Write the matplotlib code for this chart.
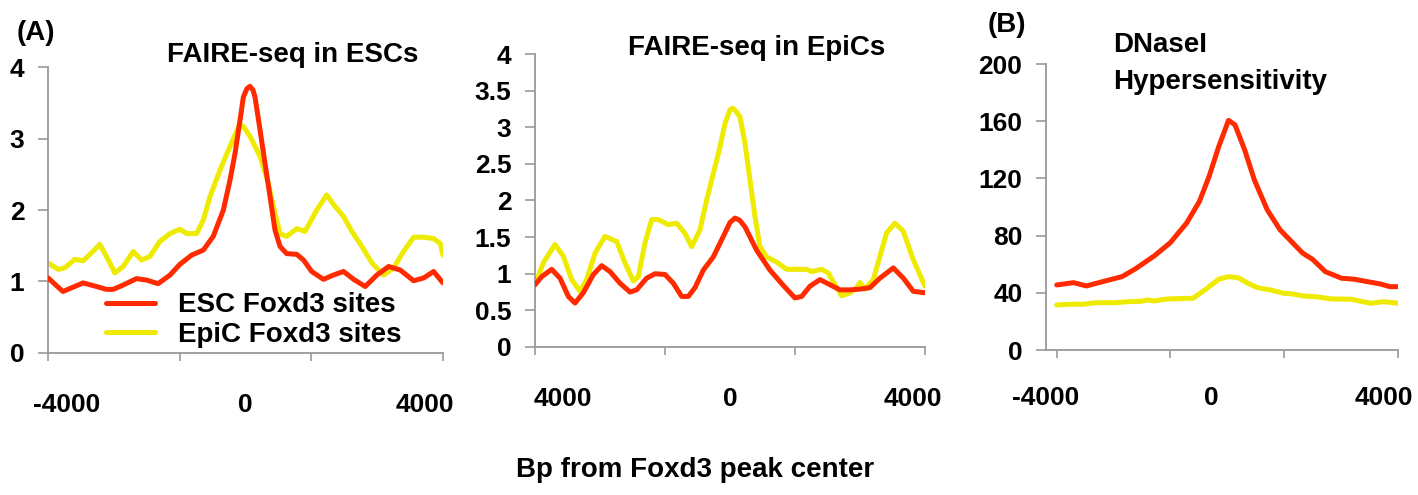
import matplotlib
matplotlib.use("Agg")
import matplotlib.pyplot as plt

plt.rcParams['font.family'] = ['Liberation Sans', 'DejaVu Sans']
plt.rcParams['font.weight'] = 'bold'

RED = "#ff2a00"
YELLOW = "#eeea00"

# FAIRE-seq in ESCs
esc_a_x = [-4000, -3700, -3290, -3020, -2820, -2680, -2480, -2210, -2005, -1770, -1530, -1330, -1090, -855,
           -655, -449, -314, -213, -111, -44, 30, 91, 150, 192, 294, 395, 496, 597, 699, 834, 1037, 1175,
           1340, 1580, 1780, 1985, 2190, 2425, 2660, 2900, 3135, 3405, 3610, 3810, 4000]
esc_a_y = [1.05, 0.86, 0.98, 0.93, 0.89, 0.89, 0.95, 1.04, 1.02, 0.97, 1.09, 1.24, 1.37, 1.44, 1.63, 2.0,
           2.42, 2.79, 3.26, 3.58, 3.70, 3.73, 3.68, 3.58, 3.12, 2.65, 2.19, 1.72, 1.49, 1.39, 1.38, 1.3,
           1.14, 1.03, 1.09, 1.14, 1.03, 0.93, 1.09, 1.21, 1.16, 1.01, 1.05, 1.14, 0.98]
epi_a_x = [-4000, -3797, -3662, -3459, -3290, -3121, -2952, -2817, -2648, -2478, -2276, -2107, -1937, -1735,
           -1532, -1329, -1192, -990, -855, -719, -516, -314, -126, -44, 91, 294, 462, 597, 699, 834, 1037,
           1205, 1442, 1645, 1813, 1985, 2154, 2357, 2560, 2796, 2999, 3202, 3405, 3608, 3811, 3946, 4000]
epi_a_y = [1.26, 1.17, 1.19, 1.31, 1.29, 1.40, 1.52, 1.35, 1.12, 1.21, 1.42, 1.30, 1.35, 1.56, 1.67, 1.73,
           1.67, 1.67, 1.86, 2.19, 2.56, 2.89, 3.19, 3.17, 3.03, 2.75, 2.37, 1.95, 1.67, 1.63, 1.74, 1.70,
           2.0, 2.21, 2.05, 1.91, 1.70, 1.49, 1.26, 1.09, 1.19, 1.42, 1.62, 1.62, 1.60, 1.53, 1.37]

# FAIRE-seq in EpiCs
esc_b_x = [-4000, -3863, -3658, -3487, -3316, -3179, -3009, -2803, -2632, -2462, -2256, -2051, -1915, -1709,
           -1538, -1333, -1162, -991, -855, -718, -547, -342, -137, 0, 103, 200, 308, 547, 820, 1094, 1333,
           1470, 1641, 1846, 2051, 2256, 2462, 2667, 2872, 3077, 3350, 3556, 3761, 4000]
esc_b_y = [0.85, 0.96, 1.06, 0.94, 0.69, 0.60, 0.74, 0.99, 1.11, 1.03, 0.87, 0.75, 0.78, 0.94, 1.00, 0.99,
           0.87, 0.69, 0.69, 0.81, 1.05, 1.23, 1.51, 1.70, 1.76, 1.73, 1.64, 1.32, 1.05, 0.84, 0.67, 0.69,
           0.83, 0.92, 0.85, 0.78, 0.78, 0.79, 0.81, 0.94, 1.08, 0.94, 0.76, 0.74]
epi_b_x = [-4000, -3829, -3590, -3419, -3248, -3077, -2940, -2769, -2564, -2325, -2154, -1983, -1880, -1744,
           -1607, -1470, -1265, -1094, -923, -786, -615, -478, -342, -205, -103, 0, 55, 120, 205, 308, 410,
           513, 615, 752, 957, 1162, 1402, 1573, 1675, 1880, 2017, 2154, 2291, 2462, 2598, 2667, 2769, 2940,
           3077, 3214, 3385, 3556, 3761, 4000]
epi_b_y = [0.85, 1.15, 1.40, 1.24, 0.92, 0.76, 0.92, 1.28, 1.51, 1.44, 1.15, 0.90, 0.96, 1.42, 1.74, 1.74,
           1.67, 1.69, 1.55, 1.37, 1.60, 2.01, 2.37, 2.73, 3.05, 3.24, 3.26, 3.22, 3.14, 2.78, 2.28, 1.78,
           1.37, 1.23, 1.16, 1.06, 1.06, 1.06, 1.03, 1.06, 1.01, 0.85, 0.70, 0.74, 0.81, 0.88, 0.79, 0.92,
           1.24, 1.56, 1.69, 1.58, 1.19, 0.83]

# DNaseI hypersensitivity
esc_c_x = [-4000, -3606, -3304, -2925, -2471, -2168, -1714, -1336, -957, -655, -428, -201, 27, 178, 405, 632,
           935, 1237, 1616, 1767, 1994, 2297, 2675, 2978, 3281, 3584, 3811, 4000]
esc_c_y = [45.5, 47.1, 44.8, 47.8, 51.3, 56.5, 65.8, 75.1, 88.7, 103.9, 121.4, 142.4, 160.6, 157.5, 140.0,
           119.0, 98.0, 84.0, 72.3, 67.7, 63.5, 54.8, 50.2, 49.5, 47.8, 46.2, 44.3, 44.3]
epi_c_x = [-4000, -3682, -3379, -3077, -2622, -2320, -2017, -1866, -1714, -1412, -806, -503, -201, 27, 254,
           481, 708, 1010, 1313, 1540, 1767, 2070, 2448, 2903, 3357, 3660, 4000]
epi_c_y = [31.5, 32.0, 32.0, 33.1, 33.1, 33.8, 34.1, 35.0, 34.3, 35.7, 36.2, 42.5, 49.5, 51.3, 50.6, 46.7,
           43.6, 42.0, 39.7, 39.2, 37.8, 37.3, 35.7, 35.5, 32.7, 33.8, 32.7]

fig = plt.figure(figsize=(14.18, 4.95), dpi=100)

panels = [
    ([0.0339, 0.2869, 0.2785, 0.5777], esc_a_x, esc_a_y, epi_a_x, epi_a_y, [0, 1, 2, 3, 4], 4,
     [-3615, 0, 3635], ["-4000", "0", "4000"], 29),
    ([0.3773, 0.2990, 0.2750, 0.5919], esc_b_x, esc_b_y, epi_b_x, epi_b_y,
     [0, 0.5, 1, 1.5, 2, 2.5, 3, 3.5, 4], 4, [-3426, 0, 3754], ["4000", "0", "4000"], 29),
    ([0.7377, 0.2929, 0.2482, 0.5778], esc_c_x, esc_c_y, epi_c_x, epi_c_y, [0, 40, 80, 120, 160, 200], 200,
     [-4250, -386, 3659], ["-4000", "0", "4000"], 26),
]

TXT = 20
TICK = 19

axes = []
for rect, ex, ey, px, py, yt, ymax, lpos, lab, xpad in panels:
    ax = fig.add_axes(rect)
    ax.plot(ex, ey, color=RED, lw=3.6, solid_joinstyle='round', solid_capstyle='round',
            label="ESC Foxd3 sites", zorder=3)
    ax.plot(px, py, color=YELLOW, lw=3.6, solid_joinstyle='round', solid_capstyle='round',
            label="EpiC Foxd3 sites", zorder=2)
    ax.set_xlim(-4000, 4000)
    ax.set_ylim(0, ymax)
    ax.set_yticks(yt)
    ax.set_yticklabels([("%g" % v) for v in yt])
    ax.set_xticks([-4000, -4000 / 3, 4000 / 3, 4000])
    ax.set_xticklabels([])
    ax.set_xticks(lpos, minor=True)
    ax.set_xticklabels(lab, minor=True)
    ax.tick_params(axis='x', which='major', length=6, width=1.2, color='#999999', direction='out')
    ax.tick_params(axis='x', which='minor', length=0, pad=xpad, labelsize=TICK)
    ax.tick_params(axis='y', length=7, width=1.2, color='#999999', pad=10, labelsize=TICK)
    for s in ['top', 'right']:
        ax.spines[s].set_visible(False)
    for s in ['left', 'bottom']:
        ax.spines[s].set_color('#999999')
        ax.spines[s].set_linewidth(1.3)
    for t in ax.get_xticklabels(minor=True) + ax.get_yticklabels():
        t.set_fontweight('bold')
    axes.append(ax)

axes[0].legend(loc='center left', bbox_to_anchor=(106 / 1418, 1 - 320 / 495), bbox_transform=fig.transFigure,
               frameon=False, handlelength=1.76, handletextpad=0.83, labelspacing=0.12,
               borderpad=0, borderaxespad=0, prop={'weight': 'bold', 'size': TXT})

fig.text(17 / 1418, 1 - 33 / 495, "(A)", ha='left', va='center', fontsize=TXT, fontweight='bold')
fig.text(293 / 1418, 1 - 55 / 495, "FAIRE-seq in ESCs", ha='center', va='center', fontsize=TXT,
         fontweight='bold')
fig.text(757 / 1418, 1 - 48 / 495, "FAIRE-seq in EpiCs", ha='center', va='center', fontsize=TXT,
         fontweight='bold')
fig.text(988 / 1418, 1 - 25 / 495, "(B)", ha='left', va='center', fontsize=TXT, fontweight='bold')
fig.text(1113 / 1418, 1 - 45 / 495, "DNaseI", ha='left', va='center', fontsize=TXT, fontweight='bold')
fig.text(1113 / 1418, 1 - 82 / 495, "Hypersensitivity", ha='left', va='center', fontsize=TXT,
         fontweight='bold')
fig.text(695 / 1418, 1 - 470 / 495, "Bp from Foxd3 peak center", ha='center', va='center', fontsize=TXT,
         fontweight='bold')

fig.savefig("out.png", dpi=100)
